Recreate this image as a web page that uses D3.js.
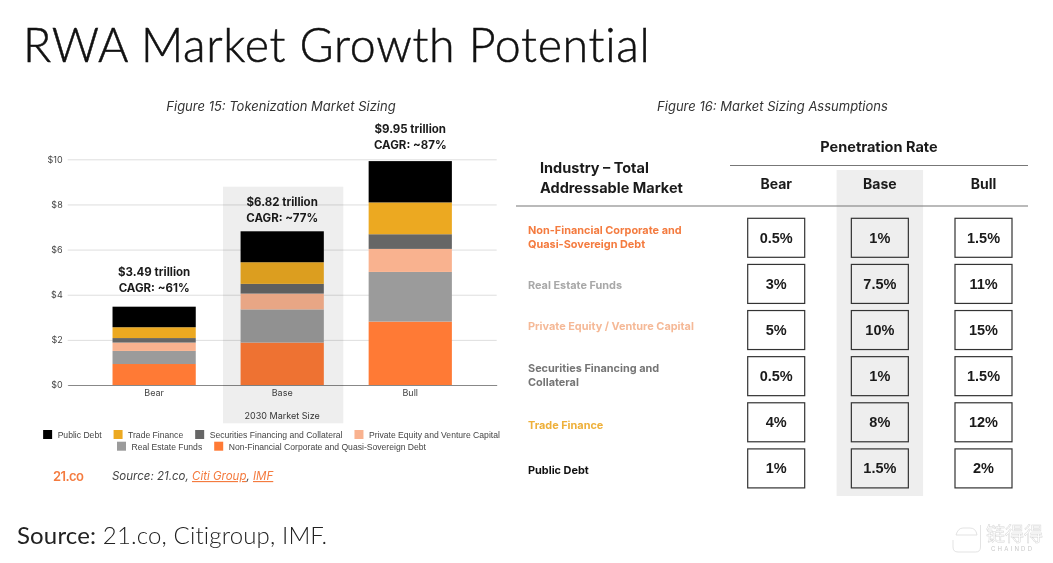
<!DOCTYPE html>
<html>
<head>
<meta charset="utf-8">
<style>
  html, body { margin: 0; background: #fff; overflow: hidden; }
  svg { display: block; }
  text { font-family: Inter, "Liberation Sans", sans-serif; }
</style>
<script src="https://cdn.jsdelivr.net/npm/d3@7"></script>
</head>
<body>
<div id="svgContainer"></div>
<script>
// Figure 15 data, bottom of the stack first
var scenarios = ["Bear", "Base", "Bull"];
var seriesNames = ["Non-Financial Corporate and Quasi-Sovereign Debt", "Real Estate Funds", "Private Equity and Venture Capital", "Securities Financing and Collateral", "Trade Finance", "Public Debt"];
var seriesColors = ["#ff7a35", "#9b9b9b", "#f9b28f", "#666666", "#eca921", "#000000"];
var nonFinancial = [0.93, 1.88, 2.81];
var realEstate = [0.58, 1.47, 2.20];
var privateEquity = [0.37, 0.70, 1.02];
var securities = [0.20, 0.43, 0.65];
var tradeFinance = [0.48, 0.96, 1.41];
var publicDebt = [0.91, 1.37, 1.83];
var totals = ["$3.49", "$6.82", "$9.95"];
var cagr = ["~61%", "~77%", "~87%"];
var yTicks = [0, 2, 4, 6, 8, 10];
var legendRows = [["Public Debt", "Trade Finance", "Securities Financing and Collateral", "Private Equity and Venture Capital"],
                  ["Real Estate Funds", "Non-Financial Corporate and Quasi-Sovereign Debt"]];

// Figure 16 data, top row first
var rowLabels = [["Non-Financial Corporate and", "Quasi-Sovereign Debt"], ["Real Estate Funds"], ["Private Equity / Venture Capital"], ["Securities Financing and", "Collateral"], ["Trade Finance"], ["Public Debt"]];
var rowColors = ["#f47b3f", "#a8a8a8", "#f5b997", "#757575", "#eeb03a", "#111111"];
var bearRates = ["0.5%", "3%", "5%", "0.5%", "4%", "1%"];
var baseRates = ["1%", "7.5%", "10%", "1%", "8%", "1.5%"];
var bullRates = ["1.5%", "11%", "15%", "1.5%", "12%", "2%"];

var width = 1053;
var height = 563;

var svg = d3.select("#svgContainer").append("svg")
  .attr("width", width)
  .attr("height", height);

// Page title and footer
svg.append("text")
  .attr("x", 23).attr("y", 62)
  .style("font-family", "Lato")
  .style("font-size", "46.5px")
  .style("font-weight", 300)
  .style("letter-spacing", "0.7px")
  .attr("fill", "#111")
  .attr("stroke", "#111")
  .attr("stroke-width", 0.5)
  .text("RWA Market Growth Potential");

var footer = svg.append("text")
  .attr("x", 17).attr("y", 544)
  .style("font-family", "Lato")
  .style("font-size", "24px")
  .style("letter-spacing", "0.15px")
  .attr("fill", "#222");
footer.append("tspan").text("Source:");
footer.append("tspan").style("font-weight", 300).text(" 21.co, Citigroup, IMF.");

// Figure 15 - stacked bars
svg.append("text")
  .attr("x", 281).attr("y", 111)
  .attr("text-anchor", "middle")
  .style("font-size", "13px")
  .style("font-style", "italic")
  .attr("fill", "#333")
  .text("Figure 15: Tokenization Market Sizing");

var x = d3.scaleBand().domain(scenarios).range([67.7, 496.7]).padding(0.35);
var y = d3.scaleLinear().domain([0, 10]).range([385, 159.3]);

var yAxis = d3.axisLeft(y)
  .tickValues(yTicks)
  .tickSize(-(496.7 - 67.7))
  .tickPadding(5)
  .tickFormat(function(d) { return "$" + d; });

var yAxisG = svg.append("g").attr("transform", "translate(67.7,0)").call(yAxis);
yAxisG.select(".domain").remove();
yAxisG.selectAll("line").attr("stroke", "#dedede");
yAxisG.selectAll("text").attr("fill", "#444").style("font-size", "9px");

var xAxisG = svg.append("g")
  .attr("transform", "translate(0,385)")
  .call(d3.axisBottom(x).tickSize(0).tickPadding(5));
xAxisG.select(".domain").attr("stroke", "#888");
xAxisG.selectAll("text").attr("fill", "#444").style("font-size", "9px");

var rows = scenarios.map(function(s, i) {
  return {
    scenario: s,
    s0: nonFinancial[i], s1: realEstate[i], s2: privateEquity[i],
    s3: securities[i], s4: tradeFinance[i], s5: publicDebt[i]
  };
});
var stack = d3.stack().keys(["s0", "s1", "s2", "s3", "s4", "s5"]);

svg.append("g").selectAll("g")
  .data(stack(rows))
  .enter().append("g")
  .attr("fill", function(d, i) { return seriesColors[i]; })
  .selectAll("rect")
  .data(function(d) { return d; })
  .enter().append("rect")
  .attr("x", function(d) { return x(d.data.scenario); })
  .attr("y", function(d) { return y(d[1]); })
  .attr("width", x.bandwidth())
  .attr("height", function(d) { return y(d[0]) - y(d[1]); });

// Base column highlight sits over the bars, it tints them in the original
svg.append("rect")
  .attr("x", 223).attr("y", 186.7)
  .attr("width", 120.3).attr("height", 236.6)
  .attr("fill", "#eeeeee")
  .style("mix-blend-mode", "multiply");

svg.append("text")
  .attr("x", x("Base") + x.bandwidth() / 2).attr("y", 419)
  .attr("text-anchor", "middle")
  .style("font-size", "9px")
  .attr("fill", "#333")
  .text("2030 Market Size");

// Total labels, gap above each bar differs a little in the original
var labelGap = [15, 9, 12];
var barTops = rows.map(function(r) { return y(r.s0 + r.s1 + r.s2 + r.s3 + r.s4 + r.s5); });

scenarios.forEach(function(s, i) {
  var cx = x(s) + x.bandwidth() / 2;
  var g = svg.append("g")
    .attr("text-anchor", "middle")
    .style("font-weight", 700)
    .attr("fill", "#1a1a1a");
  g.append("text")
    .attr("x", cx).attr("y", barTops[i] - labelGap[i] - 16)
    .style("font-size", "11.5px")
    .text(totals[i] + " trillion");
  g.append("text")
    .attr("x", cx).attr("y", barTops[i] - labelGap[i])
    .style("font-size", "11.5px")
    .text("CAGR: " + cagr[i]);
});

// Legend, rows are centred under the chart
legendRows.forEach(function(names, r) {
  var row = svg.append("g");
  var cursor = 0;
  names.forEach(function(name) {
    var item = row.append("g").attr("transform", "translate(" + cursor + ",0)");
    item.append("rect")
      .attr("width", 9).attr("height", 9)
      .attr("fill", seriesColors[seriesNames.indexOf(name)]);
    var label = item.append("text")
      .attr("x", 14.5).attr("y", 8)
      .style("font-family", "Liberation Sans")
      .style("font-size", "8.6px")
      .attr("fill", "#444")
      .text(name);
    cursor += 14.5 + label.node().getComputedTextLength() + 12;
  });
  var rowWidth = cursor - 12;
  row.attr("transform", "translate(" + (271.5 - rowWidth / 2) + "," + (430 + r * 11.7) + ")");
});

svg.append("text")
  .attr("x", 53).attr("y", 481)
  .style("font-size", "13px")
  .style("font-weight", 600)
  .style("letter-spacing", "-0.6px")
  .attr("fill", "#f47b3f")
  .text("21.co");

var sourceNote = svg.append("text")
  .attr("x", 112).attr("y", 480)
  .style("font-size", "11.5px")
  .style("font-style", "italic")
  .attr("fill", "#444");
sourceNote.append("tspan").text("Source: 21.co, ");
sourceNote.append("tspan").attr("fill", "#f47b3f").style("text-decoration", "underline").text("Citi Group");
sourceNote.append("tspan").text(", ");
sourceNote.append("tspan").attr("fill", "#f47b3f").style("text-decoration", "underline").text("IMF");

// Figure 16 - assumptions table
svg.append("text")
  .attr("x", 772.5).attr("y", 111)
  .attr("text-anchor", "middle")
  .style("font-size", "13px")
  .style("font-style", "italic")
  .attr("fill", "#333")
  .text("Figure 16: Market Sizing Assumptions");

var colX = d3.scalePoint().domain(scenarios).range([776.2, 983.5]);
var rowY = d3.scalePoint().domain(d3.range(rowLabels.length)).range([237.8, 468.4]);
var boxW = 57;
var boxH = 39;

svg.append("rect")
  .attr("x", 836.6).attr("y", 170)
  .attr("width", 86.5).attr("height", 326)
  .attr("fill", "#eeeeee");

svg.append("line")
  .attr("x1", 730).attr("x2", 1028).attr("y1", 165.5).attr("y2", 165.5)
  .attr("stroke", "#777").attr("stroke-width", 1.2);
svg.append("line")
  .attr("x1", 516).attr("x2", 1028).attr("y1", 206).attr("y2", 206)
  .attr("stroke", "#777").attr("stroke-width", 1.2);

svg.append("text")
  .attr("x", 879).attr("y", 152)
  .attr("text-anchor", "middle")
  .style("font-size", "14.5px").style("font-weight", 700)
  .attr("fill", "#1a1a1a")
  .text("Penetration Rate");

["Industry – Total", "Addressable Market"].forEach(function(t, i) {
  svg.append("text")
    .attr("x", 540).attr("y", 173 + i * 20)
    .style("font-size", "14.5px").style("font-weight", 700)
    .attr("fill", "#1a1a1a")
    .text(t);
});

svg.selectAll(".colHead")
  .data(scenarios)
  .enter().append("text")
  .attr("class", "colHead")
  .attr("x", function(d) { return colX(d); })
  .attr("y", 189)
  .attr("text-anchor", "middle")
  .style("font-size", "14px").style("font-weight", 700)
  .attr("fill", "#1a1a1a")
  .text(function(d) { return d; });

// Row labels, one or two lines; they do not sit exactly on the row centre in the original
var labelShift = [-0.8, 1, -4, -1, 2.8, 1.6];
rowLabels.forEach(function(lines, r) {
  lines.forEach(function(line, j) {
    svg.append("text")
      .attr("x", 528)
      .attr("y", rowY(r) + labelShift[r] + (j - (lines.length - 1) / 2) * 14.5)
      .attr("dy", "0.35em")
      .style("font-size", "10.9px").style("font-weight", 700)
      .attr("fill", rowColors[r])
      .text(line);
  });
});

[bearRates, baseRates, bullRates].forEach(function(rates, c) {
  var col = svg.append("g")
    .attr("transform", "translate(" + colX(scenarios[c]) + ",0)");
  var cell = col.selectAll("g")
    .data(rates)
    .enter().append("g")
    .attr("transform", function(d, r) { return "translate(0," + rowY(r) + ")"; });
  cell.append("rect")
    .attr("x", -boxW / 2).attr("y", -boxH / 2)
    .attr("width", boxW).attr("height", boxH)
    .attr("fill", "none")
    .attr("stroke", "#333").attr("stroke-width", 1.2);
  cell.append("text")
    .attr("dy", "0.35em")
    .attr("text-anchor", "middle")
    .style("font-family", "Liberation Sans")
    .style("font-size", "14.5px").style("font-weight", 700)
    .attr("fill", "#1a1a1a")
    .text(function(d) { return d; });
});

// Watermark bottom right
var mark = svg.append("g").attr("fill", "none").attr("stroke", "#dcdcdc");
mark.append("path")
  .attr("d", "M980.5,525 V547 Q980.5,552 975.5,552 H958 Q953,552 953,547 V540")
  .attr("stroke-width", 0.8);
mark.append("path")
  .attr("d", "M956,535 Q958,528 963,528 H970 Q976,528 977,535 H956")
  .attr("stroke-width", 0.8);
svg.append("text")
  .attr("x", 986).attr("y", 541)
  .style("font-family", "Noto Sans CJK SC")
  .style("font-size", "19px")
  .attr("fill", "#fff").attr("stroke", "#d6d6d6").attr("stroke-width", 0.5)
  .text("链得得");
svg.append("text")
  .attr("x", 991).attr("y", 551)
  .style("font-size", "6px")
  .style("letter-spacing", "2.2px")
  .attr("fill", "#c8c8c8")
  .text("CHAINDD");
</script>
</body>
</html>
